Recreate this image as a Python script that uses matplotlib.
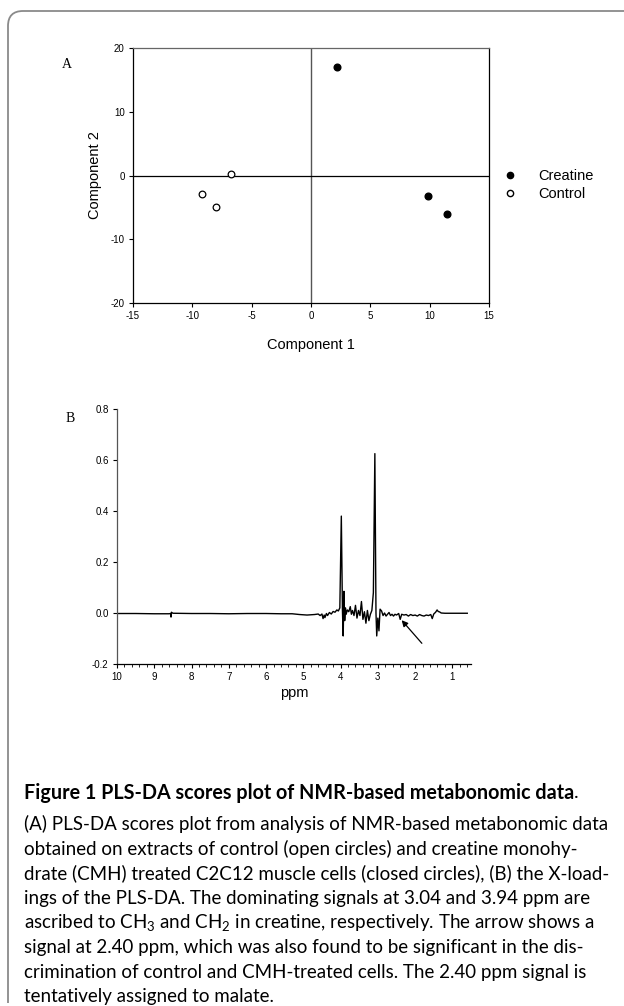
import numpy as np
import matplotlib
matplotlib.use("Agg")
import matplotlib.pyplot as plt
from matplotlib.lines import Line2D
from matplotlib.path import Path
from matplotlib.patches import PathPatch

W, H = 624, 1006

# panel A: PLS-DA scores
creatine_c1 = [2.2, 9.9, 11.5]
creatine_c2 = [17.0, -3.2, -6.0]
control_c1 = [-6.7, -9.2, -8.0]
control_c2 = [0.2, -2.9, -5.0]

# panel B: X-loadings (ppm, loading)
ppm = [10.0, 9.5, 9.0, 8.6, 8.56, 8.55, 8.54, 8.5, 8.0, 7.5, 7.0, 6.5, 6.0, 5.6, 5.3,
       5.1, 4.9, 4.7, 4.6, 4.55, 4.5, 4.47, 4.44, 4.42, 4.38, 4.35, 4.3, 4.25, 4.2,
       4.15, 4.1, 4.06, 4.02, 3.98, 3.95, 3.93, 3.91, 3.89, 3.87, 3.85, 3.82, 3.78,
       3.74, 3.71, 3.68, 3.64, 3.60, 3.56, 3.52, 3.48, 3.44, 3.40, 3.36, 3.32, 3.28,
       3.24, 3.20, 3.16, 3.12, 3.08, 3.05, 3.03, 3.00, 2.97, 2.94, 2.90, 2.86, 2.82,
       2.78, 2.74, 2.70, 2.66, 2.62, 2.58, 2.54, 2.50, 2.44, 2.40, 2.36, 2.30, 2.24,
       2.18, 2.12, 2.06, 2.00, 1.94, 1.88, 1.82, 1.76, 1.70, 1.64, 1.58, 1.54, 1.50,
       1.45, 1.41, 1.38, 1.34, 1.30, 1.2, 1.0, 0.8, 0.6]
loading = [-0.002, -0.002, -0.003, -0.003, -0.002, -0.016, 0.003, -0.001, -0.002,
           -0.002, -0.003, -0.002, -0.002, -0.003, -0.003, -0.006, -0.008, -0.006,
           -0.004, -0.010, -0.004, -0.022, -0.008, -0.018, -0.002, -0.010, 0.002,
           -0.004, 0.006, 0.003, 0.012, 0.008, 0.020, 0.380, 0.010, -0.090, 0.085,
           -0.030, 0.020, -0.005, 0.012, 0.005, 0.025, -0.005, 0.010, -0.010, 0.030,
           -0.020, 0.010, -0.010, 0.045, -0.025, 0.005, -0.040, 0.010, -0.030, -0.005,
           0.010, 0.080, 0.625, 0.000, -0.090, -0.020, -0.070, 0.015, 0.008, -0.010,
           0.000, -0.012, -0.005, 0.002, -0.010, -0.005, -0.012, -0.005, -0.008,
           -0.002, -0.025, -0.005, -0.008, -0.006, -0.012, -0.006, -0.010, -0.008,
           -0.012, -0.006, -0.010, -0.012, -0.008, -0.010, -0.006, -0.022, -0.004,
           0.003, 0.012, 0.006, 0.004, 0.000, -0.001, -0.001, -0.001, -0.001]

caption_title = "Figure 1 PLS-DA scores plot of NMR-based metabonomic data"
caption_lines = [
    "(A) PLS-DA scores plot from analysis of NMR-based metabonomic data",
    "obtained on extracts of control (open circles) and creatine monohy-",
    "drate (CMH) treated C2C12 muscle cells (closed circles), (B) the X-load-",
    "ings of the PLS-DA. The dominating signals at 3.04 and 3.94 ppm are",
    "ascribed to CH$_3$ and CH$_2$ in creatine, respectively. The arrow shows a",
    "signal at 2.40 ppm, which was also found to be significant in the dis-",
    "crimination of control and CMH-treated cells. The 2.40 ppm signal is",
    "tentatively assigned to malate.",
]

plt.rcParams.update({"font.family": "Liberation Sans", "axes.unicode_minus": False,
                     "mathtext.fontset": "custom", "mathtext.rm": "Lato",
                     "mathtext.it": "Lato:italic"})


def fx(px):
    return px / W


def fy(py):
    return 1 - py / H


fig = plt.figure(figsize=(W / 100, H / 100), dpi=100)

# rounded frame (top + left edge)
verts = [(fx(8), fy(1003)), (fx(8), fy(26)), (fx(8), fy(11)), (fx(23), fy(11)), (fx(624), fy(11))]
codes = [Path.MOVETO, Path.LINETO, Path.CURVE3, Path.CURVE3, Path.LINETO]
fig.add_artist(PathPatch(Path(verts, codes), transform=fig.transFigure, fill=False,
                         edgecolor="#8a8a8a", lw=1.3))

# ---- panel A
axA = fig.add_axes([fx(133), fy(303), fx(489) - fx(133), fy(48) - fy(303)])
axA.axvline(0, color="#555555", lw=1.0, zorder=1)
axA.axhline(0, color="black", lw=0.9, zorder=1)
axA.plot(creatine_c1, creatine_c2, "o", ms=4.8, mfc="black", mec="black", zorder=3)
axA.plot(control_c1, control_c2, "o", ms=4.8, mfc="white", mec="black", mew=0.9, zorder=3)
axA.set_xlim(-15, 15)
axA.set_ylim(-20, 20)
axA.set_xticks([-15, -10, -5, 0, 5, 10, 15])
axA.set_yticks([-20, -10, 0, 10, 20])
axA.tick_params(direction="out", length=3, width=0.8, labelsize=7, pad=3)
for s in axA.spines.values():
    s.set_linewidth(0.9)
axA.spines["top"].set_color("#666666")
axA.set_xlabel("Component 1", fontsize=10.5, labelpad=12)
axA.set_ylabel("Component 2", fontsize=10.5, labelpad=6)
fig.text(fx(62), fy(64), "A", fontsize=10, family="Liberation Serif", va="center")

fig.legend(handles=[Line2D([0], [0], marker="o", ls="", ms=4.5, mfc="black", mec="black", label="Creatine"),
                    Line2D([0], [0], marker="o", ls="", ms=4.5, mfc="white", mec="black", label="Control")],
           loc="center left", bbox_to_anchor=(fx(503), fy(185)), frameon=False, fontsize=10.5,
           handlelength=1.0, handletextpad=1.4, labelspacing=0.25, borderaxespad=0, borderpad=0)

# ---- panel B
axB = fig.add_axes([fx(117), fy(664), fx(471) - fx(117), fy(409) - fy(664)])
axB.plot(ppm, loading, color="black", lw=1.0)
axB.set_xlim(10, 0.5)
axB.set_ylim(-0.2, 0.8)
axB.set_xticks(range(10, 0, -1))
axB.set_xticks(np.arange(10, 0.5, -0.2), minor=True)
axB.set_yticks([-0.2, 0.0, 0.2, 0.4, 0.6, 0.8])
axB.yaxis.set_major_formatter(matplotlib.ticker.FormatStrFormatter("%.1f"))
axB.tick_params(direction="out", length=3, width=0.8, labelsize=7, pad=3)
axB.tick_params(which="minor", direction="out", length=2, width=0.6)
axB.spines["top"].set_visible(False)
axB.spines["right"].set_visible(False)
axB.spines["left"].set_color("#555555")
axB.spines["left"].set_linewidth(0.9)
axB.spines["bottom"].set_linewidth(0.9)
axB.set_xlabel("ppm", fontsize=10.5, labelpad=3)
axB.annotate("", xy=(2.41, -0.02), xytext=(1.77, -0.127),
             arrowprops=dict(arrowstyle="-|>", color="black", lw=0.9, mutation_scale=9))
fig.text(fx(66), fy(418), "B", fontsize=10, family="Liberation Serif", va="center")

# ---- caption
t = fig.text(fx(24), fy(793), caption_title, fontsize=14.2, family="Lato", fontweight="bold", va="center")
fig.canvas.draw()
bb = t.get_window_extent()
fig.text(bb.x1 / W, fy(793), ".", fontsize=14.2, family="Lato", va="center")
for i, line in enumerate(caption_lines):
    fig.text(fx(24), fy(824 + 24.7 * i), line, fontsize=13.5, family="Lato", va="center")

fig.savefig("out.png", dpi=100, facecolor="white")
